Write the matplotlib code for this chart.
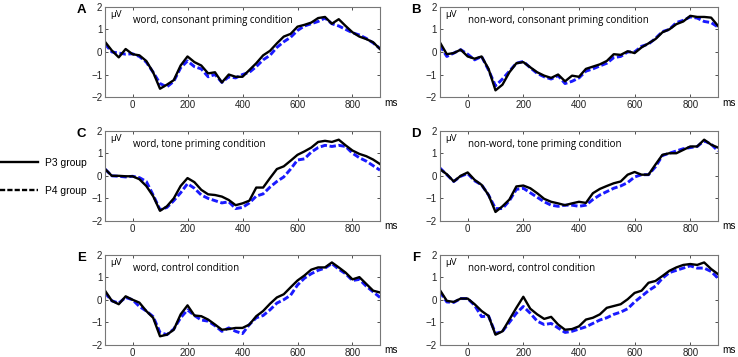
import numpy as np
import matplotlib
matplotlib.use("Agg")
import matplotlib.pyplot as plt
from matplotlib.lines import Line2D

# time axis (ms), one sample every 25 ms
t = np.arange(-100, 901, 25)

# panel A: word, consonant priming
a_p3 = [0.45, 0.06, -0.24, 0.13, -0.1, -0.15, -0.4, -0.9, -1.63, -1.45, -1.25, -0.6, -0.2, -0.45,
        -0.6, -0.95, -0.9, -1.35, -1.0, -1.1, -1.1, -0.8, -0.5, -0.15, 0.05, 0.38, 0.68, 0.8, 1.12,
        1.2, 1.3, 1.5, 1.55, 1.25, 1.45, 1.15, 0.87, 0.68, 0.57, 0.43, 0.13]
a_p4 = [0.35, 0.0, -0.05, -0.1, -0.08, -0.2, -0.45, -0.9, -1.4, -1.55, -1.3, -0.7, -0.4, -0.65,
        -0.75, -1.1, -1.0, -1.35, -1.1, -1.15, -1.0, -0.9, -0.65, -0.35, -0.15, 0.2, 0.45, 0.65, 0.95,
        1.15, 1.25, 1.35, 1.5, 1.25, 1.15, 1.0, 0.85, 0.75, 0.6, 0.4, 0.15]
# panel B: non-word, consonant priming
b_p3 = [0.43, -0.1, -0.05, 0.1, -0.2, -0.3, -0.2, -0.75, -1.7, -1.45, -0.9, -0.5, -0.45, -0.68,
        -0.9, -1.05, -1.15, -1.0, -1.3, -1.05, -1.1, -0.75, -0.65, -0.55, -0.4, -0.1, -0.13, 0.03, -0.05,
        0.2, 0.38, 0.57, 0.87, 1.0, 1.23, 1.35, 1.6, 1.55, 1.55, 1.52, 1.15]
b_p4 = [0.3, -0.2, -0.05, 0.1, -0.1, -0.35, -0.2, -0.8, -1.5, -1.2, -0.85, -0.5, -0.42, -0.7,
        -0.95, -1.1, -1.2, -1.05, -1.4, -1.3, -1.15, -0.85, -0.75, -0.62, -0.5, -0.25, -0.2, 0.0, 0.0,
        0.25, 0.35, 0.6, 0.9, 1.0, 1.3, 1.4, 1.55, 1.5, 1.35, 1.3, 1.1]
# panel C: word, tone priming
c_p3 = [0.3, 0.0, 0.0, -0.02, -0.02, -0.15, -0.45, -0.9, -1.55, -1.35, -1.0, -0.45, -0.1, -0.28,
        -0.62, -0.82, -0.85, -0.92, -1.07, -1.3, -1.22, -1.1, -0.52, -0.52, -0.1, 0.3, 0.42, 0.67, 0.93,
        1.08, 1.25, 1.5, 1.55, 1.5, 1.6, 1.35, 1.12, 0.97, 0.87, 0.72, 0.52]
c_p4 = [0.3, 0.0, -0.02, -0.05, -0.02, -0.08, -0.25, -0.85, -1.5, -1.4, -1.1, -0.75, -0.35, -0.55,
        -0.85, -1.0, -1.1, -1.2, -1.15, -1.45, -1.4, -1.2, -0.9, -0.8, -0.5, -0.25, -0.05, 0.3, 0.7,
        0.75, 1.05, 1.25, 1.35, 1.3, 1.35, 1.3, 1.0, 0.8, 0.65, 0.45, 0.25]
# panel D: non-word, tone priming
d_p3 = [0.3, 0.07, -0.25, 0.0, 0.15, -0.18, -0.4, -0.85, -1.6, -1.35, -1.05, -0.47, -0.43, -0.55,
        -0.77, -1.02, -1.15, -1.22, -1.3, -1.22, -1.15, -1.2, -0.77, -0.58, -0.45, -0.33, -0.25, 0.05, 0.17,
        0.05, 0.05, 0.5, 0.93, 1.0, 1.0, 1.15, 1.3, 1.3, 1.6, 1.38, 1.25]
d_p4 = [0.35, 0.05, -0.25, -0.02, 0.1, -0.22, -0.4, -0.85, -1.45, -1.45, -1.1, -0.6, -0.55, -0.75,
        -0.95, -1.15, -1.3, -1.35, -1.3, -1.3, -1.35, -1.3, -1.05, -0.85, -0.7, -0.55, -0.45, -0.3, -0.05,
        0.05, 0.05, 0.4, 0.9, 1.0, 1.1, 1.2, 1.25, 1.3, 1.55, 1.4, 1.1]
# panel E: word, control
e_p3 = [0.4, -0.05, -0.2, 0.15, 0.0, -0.13, -0.5, -0.8, -1.62, -1.55, -1.33, -0.65, -0.25, -0.7,
        -0.73, -0.88, -1.1, -1.33, -1.3, -1.25, -1.25, -1.1, -0.73, -0.5, -0.18, 0.1, 0.24, 0.55, 0.85,
        1.07, 1.33, 1.43, 1.43, 1.65, 1.43, 1.2, 0.9, 1.0, 0.7, 0.4, 0.32]
e_p4 = [0.3, -0.05, -0.15, 0.1, 0.0, -0.3, -0.5, -0.75, -1.45, -1.55, -1.3, -0.8, -0.45, -0.7,
        -0.9, -0.95, -1.15, -1.4, -1.25, -1.4, -1.5, -1.1, -0.8, -0.7, -0.45, -0.15, 0.0, 0.2, 0.65,
        0.95, 1.15, 1.3, 1.4, 1.6, 1.35, 1.15, 0.85, 0.9, 0.6, 0.35, 0.1]
# panel F: non-word, control
f_p3 = [0.43, -0.05, -0.1, 0.05, 0.05, -0.2, -0.5, -0.72, -1.55, -1.4, -0.88, -0.36, 0.13, -0.4,
        -0.65, -0.85, -0.76, -1.1, -1.33, -1.3, -1.18, -0.88, -0.8, -0.65, -0.36, -0.28, -0.2, 0.02, 0.3,
        0.4, 0.75, 0.83, 1.05, 1.28, 1.43, 1.54, 1.58, 1.54, 1.65, 1.36, 1.13]
f_p4 = [0.35, -0.1, -0.12, 0.05, 0.05, -0.25, -0.75, -0.72, -1.5, -1.4, -1.0, -0.6, -0.3, -0.6,
        -0.95, -1.1, -1.05, -1.25, -1.45, -1.4, -1.3, -1.2, -1.05, -0.9, -0.8, -0.65, -0.55, -0.4, -0.1,
        0.15, 0.4, 0.6, 0.95, 1.2, 1.3, 1.4, 1.5, 1.4, 1.4, 1.25, 0.95]

letters = ["A", "B", "C", "D", "E", "F"]
titles = ["word, consonant priming condition", "non-word, consonant priming condition",
          "word, tone priming condition", "non-word, tone priming condition",
          "word, control condition", "non-word, control condition"]
p3_data = [a_p3, b_p3, c_p3, d_p3, e_p3, f_p3]
p4_data = [a_p4, b_p4, c_p4, d_p4, e_p4, f_p4]

plt.rcParams['font.family'] = ['Liberation Sans', 'DejaVu Sans']

fig = plt.figure(figsize=(7.38, 3.57), dpi=100)

lefts = [0.1423, 0.596]
widths = [0.3726, 0.377]
bottoms = [0.728, 0.381, 0.034]
h = 0.253
blue = '#1a1aff'

for i in range(6):
    row, col = i // 2, i % 2
    ax = fig.add_axes([lefts[col], bottoms[row], widths[col], h])
    ax.plot(t, p4_data[i], color=blue, lw=2.1, ls=(0, (2.2, 0.9)))
    ax.plot(t, p3_data[i], color='black', lw=1.7)
    ax.set_xlim(-100, 900)
    ax.set_ylim(-2, 2)
    ax.set_xticks([0, 200, 400, 600, 800])
    ax.set_yticks([-2, -1, 0, 1, 2])
    ax.tick_params(direction='in', length=2.5, width=0.6, labelsize=7, pad=2,
                   top=True, right=True, colors='#333333', labelcolor='#222222')
    for s in ax.spines.values():
        s.set_color('#777777')
        s.set_linewidth(0.8)
    ax.text(0.02, 0.96, 'µV', transform=ax.transAxes, fontsize=6.8, va='top', ha='left',
            family='Open Sans')
    ax.text(0, 1.4, titles[i], fontsize=7, va='center', ha='left', family='Open Sans')
    ax.text(-0.085, 0.96, letters[i], transform=ax.transAxes, fontsize=9.5,
            fontweight='bold', va='center', ha='center')
    ax.text(1.015, -0.06, 'ms', transform=ax.transAxes, fontsize=7.2, va='center', ha='left')

handles = [Line2D([], [], color='black', lw=1.7),
           Line2D([], [], color='black', lw=1.7, ls=(0, (2.2, 0.9)))]
fig.legend(handles, ['P3 group', 'P4 group'], loc='center left',
           bbox_to_anchor=(0.0, 0.504), frameon=False, fontsize=7.4,
           handlelength=3.7, handletextpad=0.7, labelspacing=1.75,
           borderpad=0, borderaxespad=0)

fig.savefig('out.png', dpi=100)
